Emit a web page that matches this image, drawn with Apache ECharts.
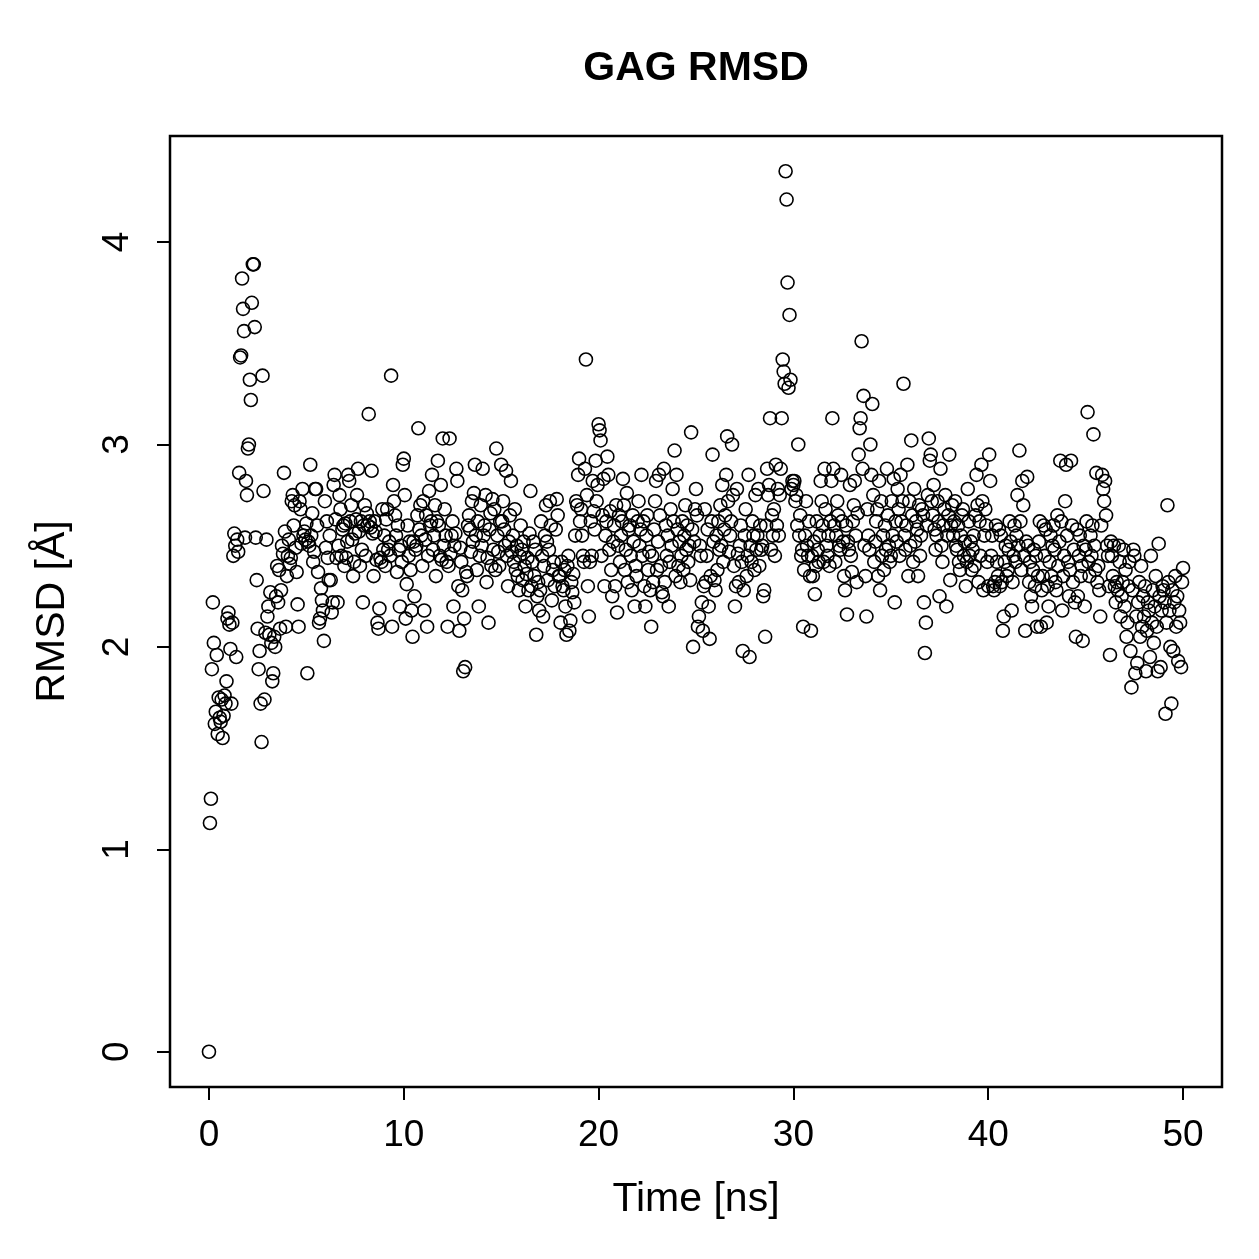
<!DOCTYPE html>
<html>
<head>
<meta charset="utf-8">
<script src="https://cdn.jsdelivr.net/npm/echarts@6/dist/echarts.min.js"></script>
<style>
  html, body { margin: 0; padding: 0; background: #fff; }
  #chart { width: 1259px; height: 1259px; }
</style>
</head>
<body>
<div id="chart"></div>
<script>
  /******************/
  //region    //data
  // RMSD samples, one row per ns (20 frames, 0.05 ns apart)
  const rmsd_0_10 = [
    [0, 1.13, 1.25, 1.89, 2.22, 2.02, 1.62, 1.68, 1.96, 1.57, 1.75, 1.65, 1.63, 1.74, 1.55, 1.66, 1.76, 1.72, 1.83, 2.14],
    [2.17, 2.11, 1.99, 1.72, 2.12, 2.45, 2.56, 2.5, 1.95, 2.53, 2.47, 2.86, 3.43, 3.44, 3.82, 3.67, 3.56, 2.54, 2.82, 2.75],
    [2.98, 3.0, 3.32, 3.22, 3.7, 3.89, 3.89, 3.58, 2.54, 2.33, 2.09, 1.89, 1.98, 1.72, 1.53, 3.34, 2.77, 1.74, 2.07, 2.53],
    [2.15, 2.2, 2.06, 2.27, 2.02, 1.83, 1.87, 2.05, 2.0, 2.25, 2.4, 2.22, 2.38, 2.09, 2.28, 2.5, 2.46, 2.86, 2.57, 2.1],
    [2.35, 2.45, 2.53, 2.41, 2.44, 2.72, 2.75, 2.6, 2.7, 2.49, 2.37, 2.21, 2.1, 2.72, 2.68, 2.51, 2.78, 2.55, 2.57, 2.53],
    [2.61, 1.87, 2.52, 2.5, 2.9, 2.55, 2.66, 2.42, 2.47, 2.78, 2.78, 2.6, 2.37, 2.12, 2.14, 2.29, 2.23, 2.18, 2.03, 2.72],
    [2.49, 2.62, 2.44, 2.33, 2.55, 2.33, 2.17, 2.22, 2.8, 2.85, 2.63, 2.44, 2.22, 2.5, 2.75, 2.68, 2.45, 2.58, 2.6, 2.4],
    [2.61, 2.44, 2.52, 2.85, 2.82, 2.62, 2.7, 2.53, 2.35, 2.42, 2.56, 2.63, 2.75, 2.88, 2.57, 2.4, 2.62, 2.48, 2.22, 2.6],
    [2.7, 2.45, 2.66, 2.6, 3.15, 2.62, 2.59, 2.87, 2.56, 2.35, 2.62, 2.57, 2.43, 2.12, 2.09, 2.19, 2.44, 2.42, 2.68, 2.48],
    [2.55, 2.4, 2.63, 2.68, 2.48, 2.52, 2.45, 3.34, 2.1, 2.8, 2.72, 2.65, 2.55, 2.37, 2.6, 2.48, 2.2, 2.5, 2.42, 2.9]
  ];
  const rmsd_10_20 = [
    [2.93, 2.75, 2.14, 2.31, 2.6, 2.45, 2.52, 2.38, 2.18, 2.05, 2.52, 2.25, 2.48, 2.5, 2.65, 3.08, 2.58, 2.7, 2.55, 2.4],
    [2.72, 2.18, 2.53, 2.65, 2.1, 2.45, 2.77, 2.6, 2.62, 2.85, 2.48, 2.55, 2.7, 2.35, 2.62, 2.92, 2.6, 2.45, 2.8, 2.43],
    [3.03, 2.5, 2.68, 2.55, 2.42, 2.1, 2.4, 3.03, 2.46, 2.55, 2.62, 2.2, 2.5, 2.56, 2.88, 2.82, 2.3, 2.08, 2.49, 2.42],
    [2.28, 1.88, 2.14, 1.9, 2.37, 2.35, 2.6, 2.65, 2.58, 2.47, 2.72, 2.52, 2.76, 2.9, 2.55, 2.38, 2.62, 2.2, 2.45, 2.7],
    [2.5, 2.88, 2.55, 2.6, 2.75, 2.32, 2.44, 2.12, 2.58, 2.66, 2.4, 2.73, 2.48, 2.68, 2.38, 2.98, 2.55, 2.47, 2.4, 2.62],
    [2.9, 2.62, 2.72, 2.58, 2.5, 2.87, 2.45, 2.3, 2.52, 2.65, 2.82, 2.47, 2.55, 2.42, 2.68, 2.38, 2.5, 2.35, 2.28, 2.45],
    [2.6, 2.48, 2.33, 2.52, 2.4, 2.2, 2.36, 2.44, 2.28, 2.56, 2.77, 2.3, 2.42, 2.52, 2.35, 2.48, 2.06, 2.25, 2.32, 2.18],
    [2.28, 2.62, 2.45, 2.15, 2.4, 2.55, 2.7, 2.52, 2.33, 2.48, 2.72, 2.6, 2.23, 2.38, 2.42, 2.3, 2.58, 2.73, 2.65, 2.35],
    [2.35, 2.12, 2.42, 2.3, 2.28, 2.38, 2.2, 2.06, 2.4, 2.45, 2.08, 2.13, 2.32, 2.27, 2.36, 2.22, 2.55, 2.72, 2.7, 2.85],
    [2.93, 2.62, 2.68, 2.55, 2.45, 2.42, 2.88, 3.42, 2.75, 2.3, 2.15, 2.42, 2.62, 2.45, 2.82, 2.67, 2.58, 2.92, 2.72, 2.8]
  ];
  const rmsd_20_30 = [
    [3.1, 3.07, 3.02, 2.45, 2.65, 2.83, 2.3, 2.55, 2.62, 2.94, 2.85, 2.48, 2.67, 2.38, 2.25, 2.52, 2.6, 2.3, 2.7, 2.17],
    [2.5, 2.65, 2.42, 2.55, 2.62, 2.83, 2.7, 2.38, 2.48, 2.76, 2.32, 2.58, 2.6, 2.45, 2.28, 2.65, 2.52, 2.2, 2.4, 2.35],
    [2.62, 2.72, 2.5, 2.58, 2.85, 2.45, 2.62, 2.3, 2.2, 2.55, 2.65, 2.38, 2.47, 2.28, 2.1, 2.45, 2.32, 2.58, 2.72, 2.82],
    [2.38, 2.52, 2.85, 2.65, 2.4, 2.27, 2.25, 2.88, 2.32, 2.6, 2.45, 2.55, 2.2, 2.42, 2.68, 2.5, 2.78, 2.62, 2.97, 2.35],
    [2.85, 2.58, 2.4, 2.52, 2.32, 2.45, 2.62, 2.38, 2.55, 2.7, 2.48, 2.6, 2.42, 2.5, 2.33, 3.06, 2.58, 2.0, 2.52, 2.68],
    [2.78, 2.65, 2.1, 2.15, 2.5, 2.45, 2.22, 2.08, 2.3, 2.68, 2.32, 2.45, 2.58, 2.2, 2.04, 2.35, 2.62, 2.95, 2.52, 2.33],
    [2.28, 2.55, 2.38, 2.62, 2.48, 2.7, 2.5, 2.8, 2.42, 2.58, 2.65, 2.85, 3.04, 2.72, 2.47, 2.55, 2.62, 3.0, 2.75, 2.4],
    [2.2, 2.3, 2.78, 2.46, 2.32, 2.5, 2.6, 2.42, 1.98, 2.28, 2.55, 2.68, 2.35, 2.45, 2.85, 1.95, 2.5, 2.42, 2.62, 2.55],
    [2.38, 2.75, 2.48, 2.55, 2.78, 2.4, 2.6, 2.48, 2.5, 2.25, 2.28, 2.05, 2.6, 2.88, 2.75, 2.8, 3.13, 2.48, 2.65, 2.55],
    [2.68, 2.45, 2.9, 2.6, 2.78, 2.55, 2.75, 2.88, 3.13, 3.42, 3.36, 3.3, 4.35, 4.21, 3.8, 3.28, 3.64, 3.32, 2.78, 2.82]
  ];
  const rmsd_30_40 = [
    [2.8, 2.82, 2.72, 2.75, 2.6, 3.0, 2.55, 2.65, 2.45, 2.48, 2.1, 2.38, 2.55, 2.72, 2.5, 2.45, 2.62, 2.35, 2.08, 2.45],
    [2.35, 2.52, 2.26, 2.4, 2.62, 2.48, 2.42, 2.55, 2.82, 2.72, 2.6, 2.42, 2.88, 2.68, 2.5, 2.45, 2.55, 2.4, 2.62, 2.82],
    [3.13, 2.88, 2.6, 2.42, 2.55, 2.72, 2.65, 2.5, 2.48, 2.85, 2.62, 2.52, 2.35, 2.28, 2.6, 2.16, 2.52, 2.48, 2.8, 2.45],
    [2.37, 2.62, 2.7, 2.82, 2.55, 2.32, 2.66, 2.95, 3.08, 3.13, 3.51, 2.88, 3.24, 2.5, 2.35, 2.15, 2.68, 2.55, 2.48, 3.0],
    [2.85, 3.2, 2.75, 2.42, 2.52, 2.62, 2.68, 2.35, 2.82, 2.28, 2.72, 2.45, 2.55, 2.38, 2.6, 2.48, 2.88, 2.65, 2.5, 2.42],
    [2.45, 2.72, 2.55, 2.83, 2.22, 2.62, 2.52, 2.78, 2.68, 2.45, 2.85, 2.62, 2.72, 3.3, 2.55, 2.48, 2.6, 2.9, 2.35, 2.72],
    [2.5, 3.02, 2.65, 2.42, 2.78, 2.52, 2.62, 2.58, 2.35, 2.7, 2.45, 2.55, 2.68, 2.65, 2.22, 1.97, 2.12, 2.6, 2.75, 3.03],
    [2.92, 2.95, 2.72, 2.65, 2.8, 2.58, 2.48, 2.55, 2.72, 2.62, 2.25, 2.88, 2.5, 2.42, 2.6, 2.68, 2.75, 2.2, 2.55, 2.65],
    [2.95, 2.33, 2.6, 2.7, 2.55, 2.62, 2.72, 2.5, 2.48, 2.6, 2.42, 2.38, 2.55, 2.65, 2.68, 2.45, 2.52, 2.3, 2.42, 2.78],
    [2.62, 2.45, 2.52, 2.38, 2.48, 2.55, 2.4, 2.65, 2.85, 2.7, 2.32, 2.62, 2.45, 2.9, 2.72, 2.28, 2.55, 2.68, 2.6, 2.42]
  ];
  const rmsd_40_50 = [
    [2.3, 2.95, 2.82, 2.45, 2.55, 2.3, 2.28, 2.32, 2.6, 2.42, 2.35, 2.58, 2.3, 2.55, 2.32, 2.08, 2.15, 2.42, 2.5, 2.35],
    [2.38, 2.48, 2.62, 2.52, 2.18, 2.32, 2.45, 2.6, 2.42, 2.55, 2.75, 2.5, 2.97, 2.62, 2.38, 2.82, 2.7, 2.45, 2.08, 2.52],
    [2.84, 2.5, 2.32, 2.42, 2.25, 2.2, 2.38, 2.48, 2.3, 2.45, 2.1, 2.35, 2.52, 2.62, 2.1, 2.28, 2.35, 2.6, 2.45, 2.58],
    [2.12, 2.3, 2.2, 2.42, 2.55, 2.35, 2.5, 2.6, 2.48, 2.32, 2.28, 2.65, 2.4, 2.52, 2.92, 2.62, 2.18, 2.35, 2.45, 2.72],
    [2.9, 2.55, 2.42, 2.25, 2.38, 2.92, 2.6, 2.32, 2.48, 2.22, 2.05, 2.58, 2.25, 2.45, 2.55, 2.35, 2.4, 2.03, 2.5, 2.2],
    [2.48, 2.62, 3.16, 2.42, 2.35, 2.55, 2.45, 2.6, 3.05, 2.5, 2.38, 2.86, 2.32, 2.4, 2.28, 2.15, 2.6, 2.85, 2.78, 2.72],
    [2.82, 2.65, 2.5, 2.45, 2.3, 1.96, 2.52, 2.45, 2.35, 2.5, 2.3, 2.22, 2.32, 2.28, 2.5, 2.42, 2.15, 2.25, 2.32, 2.48],
    [2.2, 2.38, 2.05, 2.12, 2.3, 2.42, 1.98, 1.8, 2.28, 2.48, 2.45, 1.87, 2.15, 1.92, 2.22, 2.32, 2.05, 2.4, 2.1, 2.25],
    [2.15, 2.3, 1.88, 2.08, 2.22, 2.18, 1.95, 2.45, 2.12, 2.28, 2.02, 2.2, 2.35, 2.1, 1.88, 2.51, 2.25, 1.9, 2.18, 2.3],
    [2.28, 2.22, 1.67, 2.12, 2.7, 2.32, 2.18, 2.0, 1.72, 2.28, 1.98, 2.22, 2.35, 2.1, 2.25, 1.93, 2.18, 2.12, 1.9, 2.32]
  ];
  const rmsd_last = [2.39]; // frame at 50 ns

  const xTicks = [0, 10, 20, 30, 40, 50];
  const yTicks = [0, 1, 2, 3, 4];
  //endregion

  /******************/
  //region    //build points
  let points = [];
  [[0, rmsd_0_10], [10, rmsd_10_20], [20, rmsd_20_30], [30, rmsd_30_40], [40, rmsd_40_50]].forEach(([start, rows]) => {
    rows.forEach((row, i) => {
      row.forEach((v, j) => {
        points.push([start + i + j / row.length, v]);
      });
    });
  });
  points.push([50, rmsd_last[0]]);
  //endregion

  const FONT = '"Liberation Sans", Arial, Helvetica, sans-serif';

  let chart = echarts.init(document.getElementById('chart'), null, {renderer: 'canvas'});

  let option = {
    animation: false,
    backgroundColor: '#fff',
    grid: {
      left: 170,
      right: 37,
      top: 136,
      bottom: 172,
      show: true,
      borderColor: '#000',
      borderWidth: 2.5,
      backgroundColor: 'transparent',
    },
    graphic: [
      {
        type: 'text',
        x: 696,
        y: 69,
        style: {
          text: 'GAG RMSD',
          font: 'bold 41px ' + FONT,
          fill: '#000',
          align: 'center',
          verticalAlign: 'middle',
        },
      },
    ],
    xAxis: {
      type: 'value',
      min: -2,
      max: 52,
      name: 'Time [ns]',
      nameLocation: 'middle',
      nameGap: 92,
      nameTextStyle: {color: '#000', fontSize: 41, fontFamily: FONT},
      axisLine: {show: false, onZero: false},
      splitLine: {show: false},
      axisTick: {
        show: true,
        inside: false,
        length: 13,
        customValues: xTicks,
        lineStyle: {color: '#000', width: 2},
      },
      axisLabel: {
        show: true,
        customValues: xTicks,
        margin: 30,
        color: '#000',
        fontSize: 37,
        fontFamily: FONT,
      },
    },
    yAxis: {
      type: 'value',
      min: -0.174,
      max: 4.524,
      name: 'RMSD [Å]',
      nameLocation: 'middle',
      nameGap: 97,
      nameRotate: 90,
      nameTextStyle: {color: '#000', fontSize: 41, fontFamily: FONT},
      axisLine: {show: false, onZero: false},
      splitLine: {show: false},
      axisTick: {
        show: true,
        inside: false,
        length: 13,
        customValues: yTicks,
        lineStyle: {color: '#000', width: 2},
      },
      axisLabel: {
        show: true,
        customValues: yTicks,
        rotate: 90,
        margin: 34,
        color: '#000',
        fontSize: 37,
        fontFamily: FONT,
      },
    },
    series: [
      {
        type: 'scatter',
        data: points,
        symbol: 'circle',
        symbolSize: 13,
        itemStyle: {
          color: 'rgba(0,0,0,0)',
          borderColor: '#000',
          borderWidth: 1.6,
          opacity: 1,
        },
        emphasis: {disabled: true},
      },
    ],
  };

  chart.setOption(option);
</script>
</body>
</html>
